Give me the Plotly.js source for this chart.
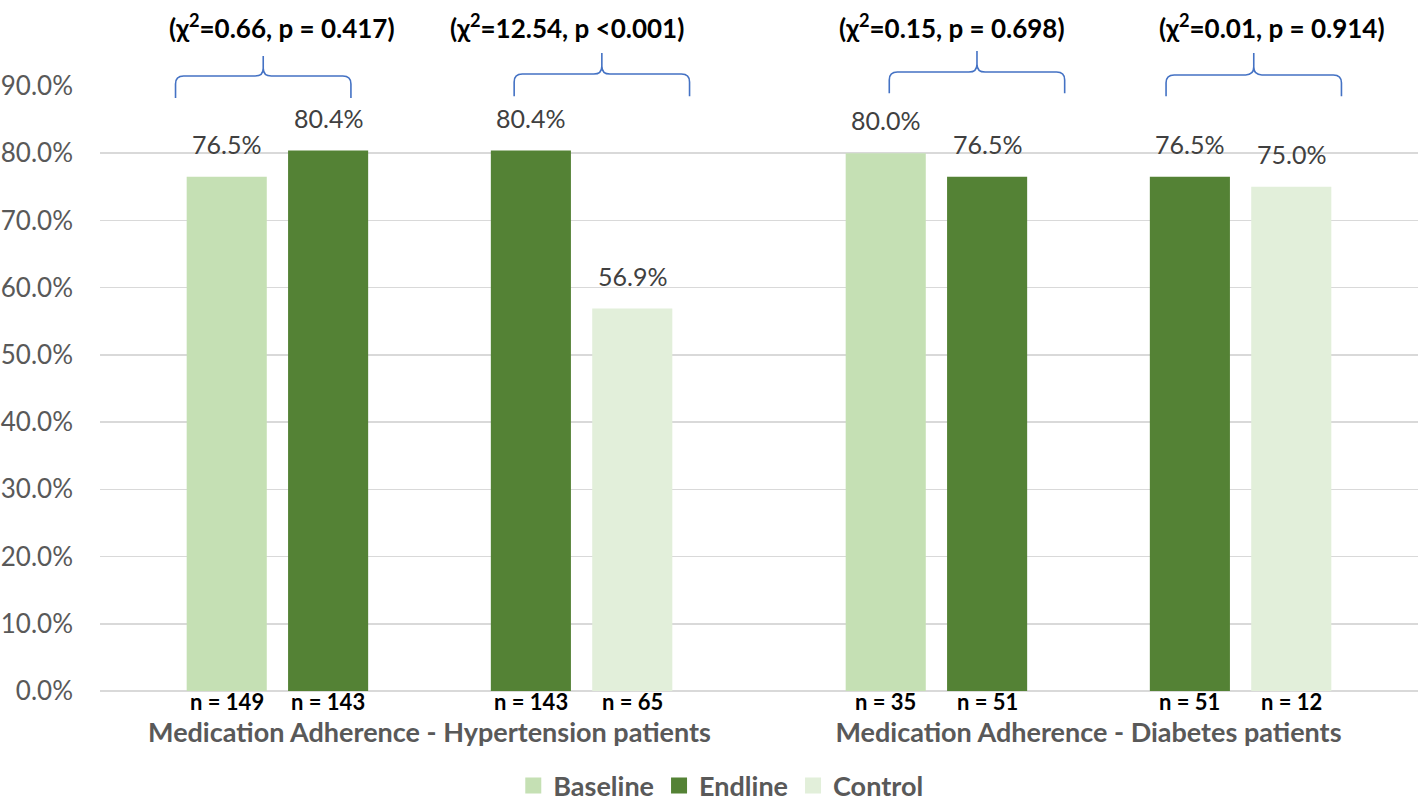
<!DOCTYPE html>
<html>
<head>
<meta charset="utf-8">
<script src="https://cdn.plot.ly/plotly-3.0.1.min.js"></script>
<style>html,body{margin:0;padding:0;background:#fff;}#chart{width:1424px;height:804px;}</style>
</head>
<body>
<div id="chart"></div>
<script>
// ---- data ----
var categories = ['Medication Adherence - Hypertension patients', 'Medication Adherence - Diabetes patients'];
var seriesNames = ['Baseline', 'Endline', 'Endline', 'Control'];
var baseline = [76.5, 80.0];
var endlineA = [80.4, 76.5];
var endlineB = [80.4, 76.5];
var control = [56.9, 75.0];
var nBaseline = [149, 35];
var nEndlineA = [143, 51];
var nEndlineB = [143, 51];
var nControl = [65, 12];
var chiValues = ['0.66', '12.54', '0.15', '0.01'];
var pValues = ['= 0.417', '<0.001', '= 0.698', '= 0.914'];

// ---- layout helpers (positions / styles) ----
var FONT = 'Lato, "Open Sans", sans-serif';
var catStep = 6.5;
var slotOffsets = [-2, -1, 1, 2];
var colors = ['#C5E0B4', '#548235', '#548235', '#E2EFDA'];
var values = [baseline, endlineA, endlineB, control];
var ns = [nBaseline, nEndlineA, nEndlineB, nControl];
var barW = 0.79;
var catCenters = categories.map(function(c, i){ return i * catStep; });
function xpos(si, ci){ return catCenters[ci] + slotOffsets[si]; }

var traces = [];
var annotations = [];
values.forEach(function(vals, si){
  var xs = vals.map(function(v, ci){ return xpos(si, ci); });
  traces.push({
    type: 'bar', x: xs, y: vals, width: barW, textposition: 'none',
    marker: {color: colors[si], line: {width: 0}},
    showlegend: false, hoverinfo: 'y', name: seriesNames[si]
  });
  vals.forEach(function(v, ci){
    annotations.push({
      x: xs[ci], y: v, xref: 'x', yref: 'y', yanchor: 'bottom', yshift: 16,
      text: v.toFixed(1) + '%', showarrow: false,
      font: {family: FONT, size: 25, color: '#404040'}
    });
    annotations.push({
      x: xs[ci], y: 0, xref: 'x', yref: 'y', yanchor: 'middle', yshift: -10, borderpad: 0,
      text: 'n = ' + ns[si][ci], showarrow: false,
      font: {family: FONT, size: 22, color: '#000000', weight: 'bold'}
    });
  });
});

// legend-only traces
['Baseline', 'Endline', 'Control'].forEach(function(nm, i){
  traces.push({
    type: 'scatter', mode: 'markers', x: [null], y: [null], name: nm,
    marker: {symbol: 'square', size: 17, color: [colors[0], colors[1], colors[3]][i]},
    showlegend: true
  });
});

// comparison pairs: (slot a, slot b, category)
var pairs = [[0,1,0],[2,3,0],[0,1,1],[2,3,1]];
var braceShift = [-0.14, 0.20, 0.40, 0.13];
var labelShift = [0.05, -0.14, 0.15, 0.31];
var braceHalf = 0.865;
var braceY = [[0.980, 1.0165, 1.0496],[0.983, 1.0198, 1.0545],[0.988, 1.0231, 1.0578],[0.983, 1.0182, 1.0545]];
var shapes = [];
pairs.forEach(function(p, k){
  var c = (xpos(p[0], p[2]) + xpos(p[1], p[2])) / 2;
  var m = c + braceShift[k];
  var l = m - braceHalf, r = m + braceHalf;
  var yb = braceY[k][0], ym = braceY[k][1], yt = braceY[k][2];
  var dx = 0.08, dy = 0.013;
  var path = 'M' + l + ',' + yb +
    ' L' + l + ',' + (ym - dy) +
    ' Q' + l + ',' + ym + ' ' + (l + dx) + ',' + ym +
    ' L' + (m - dx) + ',' + ym +
    ' Q' + m + ',' + ym + ' ' + m + ',' + (ym + dy) +
    ' L' + m + ',' + yt +
    ' M' + m + ',' + (ym + dy) +
    ' Q' + m + ',' + ym + ' ' + (m + dx) + ',' + ym +
    ' L' + (r - dx) + ',' + ym +
    ' Q' + r + ',' + ym + ' ' + r + ',' + (ym - dy) +
    ' L' + r + ',' + yb;
  shapes.push({type: 'path', xref: 'x', yref: 'paper', path: path,
    line: {color: '#4472C4', width: 1.6}});
  annotations.push({
    x: c + labelShift[k], y: 1.098, xref: 'x', yref: 'paper', yanchor: 'middle',
    text: '(χ<sup>2</sup>=' + chiValues[k] + ', p ' + pValues[k] + ')',
    showarrow: false, font: {family: FONT, size: 26, color: '#000000', weight: 'bold'}
  });
});

var layout = {
  width: 1424, height: 804,
  margin: {l: 100, r: 6, t: 86, b: 113, autoexpand: false},
  paper_bgcolor: '#ffffff', plot_bgcolor: '#ffffff',
  font: {family: FONT, color: '#595959'},
  xaxis: {
    range: [-3.25, 9.75], tickvals: catCenters, ticktext: categories,
    showgrid: false, zeroline: false, showline: false, ticks: '',
    ticklabelstandoff: 23, automargin: false,
    tickfont: {family: FONT, size: 27, color: '#595959', weight: 'bold'}
  },
  yaxis: {
    range: [0, 90], dtick: 10, tick0: 0, tickformat: '.1f', ticksuffix: '%',
    showgrid: true, gridcolor: '#D9D9D9', gridwidth: 1.5,
    zeroline: true, zerolinecolor: '#D9D9D9', zerolinewidth: 1.5,
    showline: false, ticks: '', ticklabelstandoff: 26, automargin: false,
    tickfont: {family: FONT, size: 26, color: '#595959'}
  },
  showlegend: true,
  legend: {
    orientation: 'h', x: 0.471, xanchor: 'center', y: -0.157, yanchor: 'middle',
    font: {family: FONT, size: 27, color: '#595959', weight: 'bold'},
    itemsizing: 'trace', tracegroupgap: 0, itemwidth: 30
  },
  shapes: shapes,
  annotations: annotations,
  hovermode: false
};

Plotly.newPlot('chart', traces, layout, {displayModeBar: false, staticPlot: true});
</script>
</body>
</html>
